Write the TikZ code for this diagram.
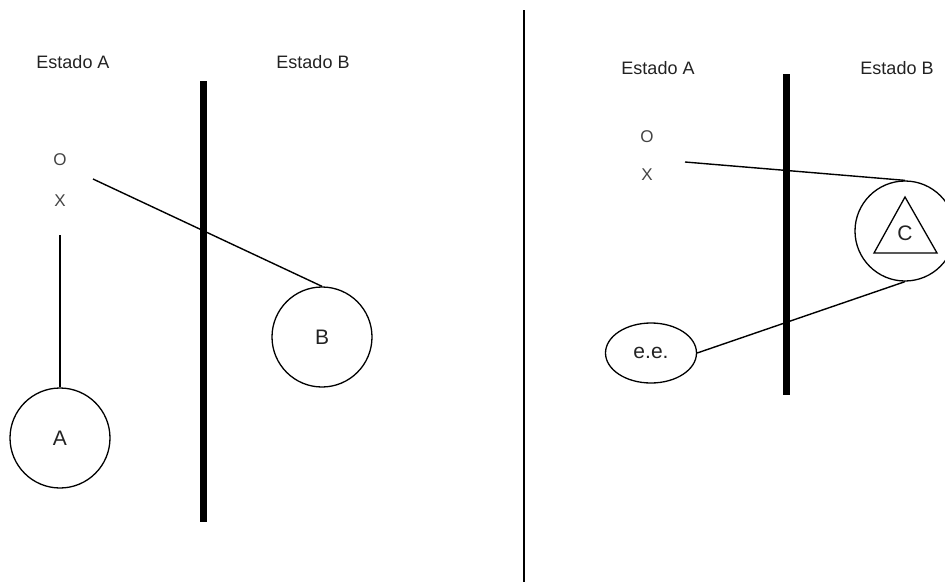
\documentclass[tikz,border=0pt]{standalone}
\usepackage{fontspec}
\setmainfont{Liberation Sans}
\usetikzlibrary{shapes.geometric}
\definecolor{txt}{HTML}{222222}
\definecolor{txtl}{HTML}{444444}
\begin{document}
\begin{tikzpicture}[x=1pt,y=-1pt,
  hdr/.style={font=\fontsize{18}{18}\selectfont,text=txt,inner sep=0pt},
  glyph/.style={font=\fontsize{17}{17}\selectfont,text=txtl,inner sep=0pt},
  ball/.style={draw,circle,line width=1.3pt,minimum size=100pt,inner sep=0pt,font=\fontsize{21}{21}\selectfont,text=txt},
  wire/.style={line width=1.4pt},
  wall/.style={line width=7pt},
  sep/.style={line width=2.5pt}]
\useasboundingbox (0,0) rectangle (945,587);
% divider
\coordinate (d1) at (524,10); \coordinate (d2) at (524,582);
\draw[sep] (d1) -- (d2);
% left panel
\node[hdr] (lea) at (73,62) {Estado A};
\node[hdr] (leb) at (313,62) {Estado B};
\coordinate (lw1) at (203,81); \coordinate (lw2) at (203,522);
\draw[wall] (lw1) -- (lw2);
\node[glyph] (lo) at (60,160) {O};
\node[glyph] (lx) at (60,201) {X};
\node[ball] (A) at (60,438) {A};
\node[ball] (B) at (322,337) {B};
\coordinate (lxs) at (93,179);
\coordinate (las) at (60,235);
\draw[wire] (lxs) -- (B.north);
\draw[wire] (las) -- (A.north);
% right panel
\node[hdr] (rea) at (658,68) {Estado A};
\node[hdr] (reb) at (897,68) {Estado B};
\coordinate (rw1) at (786,74); \coordinate (rw2) at (786,395);
\draw[wall] (rw1) -- (rw2);
\node[glyph] (ro) at (647,137) {O};
\node[glyph] (rx) at (647,175) {X};
\node[ball] (C) at (905,231) {};
\coordinate (t1) at (905,197); \coordinate (t2) at (937,253); \coordinate (t3) at (874,253);
\draw[line width=1.3pt,line join=miter] (t1) -- (t2) -- (t3) -- cycle;
\node[font=\fontsize{21}{21}\selectfont,text=txt,inner sep=0pt] (Cl) at (905,233) {C};
\node[draw,ellipse,line width=1.3pt,minimum width=91pt,minimum height=60pt,inner sep=0pt,font=\fontsize{21}{21}\selectfont,text=txt] (ee) at (651,353) {e.e.};
\coordinate (rxs) at (685,162);
\draw[wire] (rxs) -- (C.north);
\draw[wire] (C.south) -- (ee.east);
\end{tikzpicture}
\end{document}
